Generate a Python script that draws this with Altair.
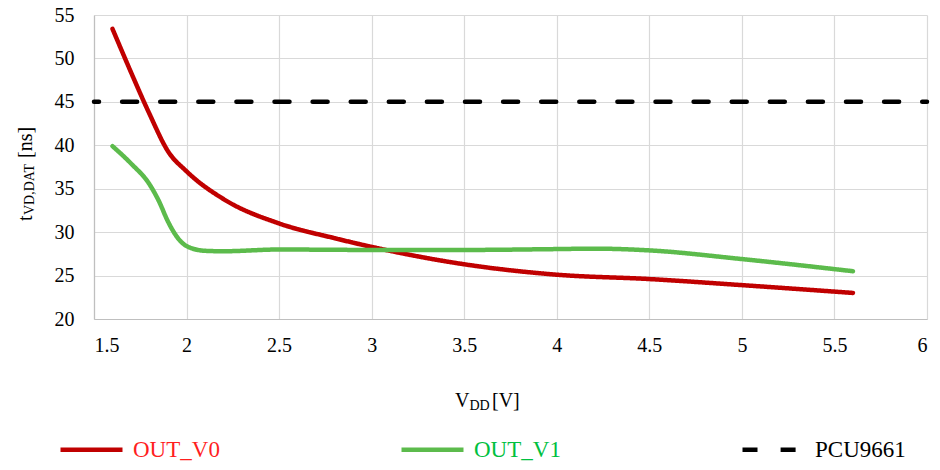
import altair as alt
import pandas as pd

# ---- data ----
vdd_v0 = [1.6, 1.7, 1.8, 1.9, 2.0, 2.2, 2.5, 2.8, 3.0, 3.5, 4.0, 4.5, 5.0, 5.6]
t_v0 = [53.4, 48.4, 43.6, 39.3, 37.0, 33.8, 31.0, 29.3, 28.3, 26.3, 25.1, 24.6, 23.9, 23.0]

vdd_v1 = [1.6, 1.7, 1.8, 1.85, 1.9, 1.95, 2.0, 2.1, 2.2, 2.5, 3.0, 3.5, 4.0, 4.2, 4.5, 5.0, 5.6]
t_v1 = [39.9, 37.9, 35.5, 33.6, 31.2, 29.4, 28.4, 27.85, 27.8, 28.0, 27.95, 27.95, 28.05, 28.1, 27.9, 26.9, 25.5]

vdd_ref = [1.5, 6.0]
t_ref = [45, 45]

series_names = ["OUT_V0", "OUT_V1", "PCU9661"]
line_colors = ["#C00000", "#5CBB4C", "#000000"]
label_colors = ["#FF1F1F", "#00C040", "#000000"]

x_ticks = [1.5, 2, 2.5, 3, 3.5, 4, 4.5, 5, 5.5, 6]
y_ticks = [20, 25, 30, 35, 40, 45, 50, 55]

x_title_main, x_title_sub, x_title_unit = "V", "DD", "[V]"
y_title_main, y_title_sub, y_title_unit = "t", "VD,DAT", "[ns]"

FONT = "Liberation Serif"

df = pd.concat([
    pd.DataFrame({"vdd": vdd_v0, "t": t_v0, "series": series_names[0]}),
    pd.DataFrame({"vdd": vdd_v1, "t": t_v1, "series": series_names[1]}),
    pd.DataFrame({"vdd": vdd_ref, "t": t_ref, "series": series_names[2]}),
], ignore_index=True)

label_expr = ("datum.label == '%s' ? '%s' : datum.label == '%s' ? '%s' : '%s'"
              % (series_names[0], label_colors[0], series_names[1], label_colors[1], label_colors[2]))

lines = alt.Chart(df).mark_line(
    strokeWidth=4.5, strokeCap="round", interpolate="monotone", strokeDashOffset=10
).encode(
    x=alt.X("vdd:Q", scale=alt.Scale(domain=[1.5, 6], nice=False, zero=False),
            axis=alt.Axis(values=x_ticks, format="~g", title=None, labelPadding=16,
                          tickSize=0, ticks=False)),
    y=alt.Y("t:Q", scale=alt.Scale(domain=[20, 55], nice=False, zero=False),
            axis=alt.Axis(values=y_ticks, title=None, labelPadding=20, tickSize=0, ticks=False)),
    color=alt.Color("series:N", scale=alt.Scale(domain=series_names, range=line_colors),
                    legend=alt.Legend(
                        title=None, orient="none", legendX=-36, legendY=401,
                        direction="horizontal", columns=3, columnPadding=172,
                        symbolType="stroke", symbolSize=3844, symbolStrokeWidth=4.5,
                        labelFont=FONT, labelFontSize=23, labelOffset=8,
                        labelColor=alt.ExprRef(label_expr), labelLimit=300)),
    strokeDash=alt.StrokeDash("series:N", scale=alt.Scale(domain=series_names,
                              range=[[1, 0], [1, 0], [15, 23.1]]),
                              legend=alt.Legend(title=None)),
)


def txt(s, x, y, size, angle=0):
    return alt.Chart(pd.DataFrame({"s": [s]})).mark_text(
        font=FONT, fontSize=size, align="left", baseline="alphabetic", angle=angle, color="#000000"
    ).encode(x=alt.value(x), y=alt.value(y), text="s:N")


titles = [
    txt(x_title_main, 361, 392, 20),
    txt(x_title_sub, 375.5, 395, 14),
    txt(x_title_unit, 398, 392, 20),
    txt(y_title_main, -62, 206, 20, 270),
    txt(y_title_sub, -60, 200, 14, 270),
    txt(y_title_unit, -62, 143, 20, 270),
]

chart = alt.layer(lines, *titles).properties(
    width=833, height=304,
    padding={"left": 86, "top": 7, "right": 5, "bottom": 143},
    autosize=alt.AutoSizeParams(type="none"),
    background="white",
).configure_view(stroke=None).configure_axis(
    labelFont=FONT, labelFontSize=20, labelColor="#000000",
    gridColor="#D9D9D9", gridWidth=1.2, domainColor="#BFBFBF", domainWidth=1.2,
)

chart.save("out.html", embed_options={"renderer": "svg", "actions": False})
